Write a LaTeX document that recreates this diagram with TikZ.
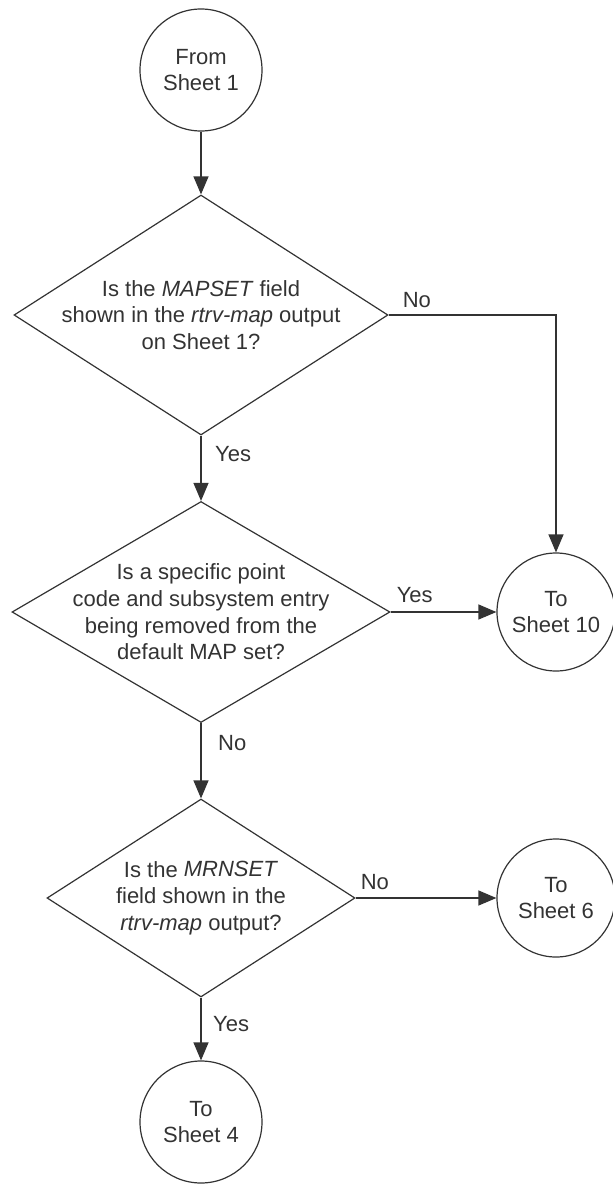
\documentclass[tikz,border=0pt]{standalone}
\usepackage{fontspec}
\setmainfont{Liberation Sans}
\usetikzlibrary{shapes.geometric,arrows.meta}
\definecolor{ink}{HTML}{333333}
\begin{document}
\begin{tikzpicture}[x=1pt,y=-1pt,
  every node/.style={font=\fontsize{22}{26.7}\selectfont, text=ink},
  term/.style={circle, draw=ink, line width=1.2pt, minimum size=122pt, inner sep=0pt, align=center},
  decision/.style={diamond, draw=ink, line width=1.2pt, inner sep=0pt},
  qtext/.style={align=center, inner sep=0pt},
  lbl/.style={inner sep=0pt, anchor=west},
  flow/.style={draw=ink, line width=1.2pt, -{Triangle[length=18pt,width=15pt]}}
]
\useasboundingbox (0,0) rectangle (613,1184);

% terminals
\node[term] (c1) at (201,70) {From\\Sheet 1};
\node[term, minimum size=118pt] (s10) at (556,612) {To\\Sheet 10};
\node[term, minimum size=118pt] (s6) at (556,898) {To\\Sheet 6};
\node[term] (s4) at (201,1122) {To\\Sheet 4};

% decisions
\node[decision, minimum width=374pt, minimum height=240pt] (d1) at (201,315) {};
\node[qtext] (t1) at (d1.center) {Is the \textit{MAPSET} field\\shown in the \textit{rtrv-map} output\\on Sheet 1?};

\node[decision, minimum width=378pt, minimum height=221pt] (d2) at (201,612) {};
\node[qtext] (t2) at (d2.center) {Is a specific point\\code and subsystem entry\\being removed from the\\default MAP set?};

\node[decision, minimum width=308pt, minimum height=198pt] (d3) at (201,898) {};
\node[qtext] (t3) at (d3.center) {Is the \textit{MRNSET}\\field shown in the\\\textit{rtrv-map} output?};

% connectors
\draw[flow] (c1) -- (d1.north);
\draw[flow] (d1.east) -| (s10.north);
\draw[flow] (d1.south) -- (d2.north);
\draw[flow] (d2.east) -- (s10.west);
\draw[flow] (d2.south) -- (d3.north);
\draw[flow] (d3.east) -- (s6.west);
\draw[flow] (d3.south) -- (s4.north);

% labels
\node[lbl] (l1) at ([xshift=14pt,yshift=15pt]d1.east) {No};
\node[lbl] (l2) at ([xshift=14pt,yshift=-18pt]d1.south) {Yes};
\node[lbl] (l3) at ([xshift=6pt,yshift=17pt]d2.east) {Yes};
\node[lbl] (l4) at ([xshift=17pt,yshift=-20pt]d2.south) {No};
\node[lbl] (l5) at ([xshift=5pt,yshift=16pt]d3.east) {No};
\node[lbl] (l6) at ([xshift=12pt,yshift=-26pt]d3.south) {Yes};
\end{tikzpicture}
\end{document}
